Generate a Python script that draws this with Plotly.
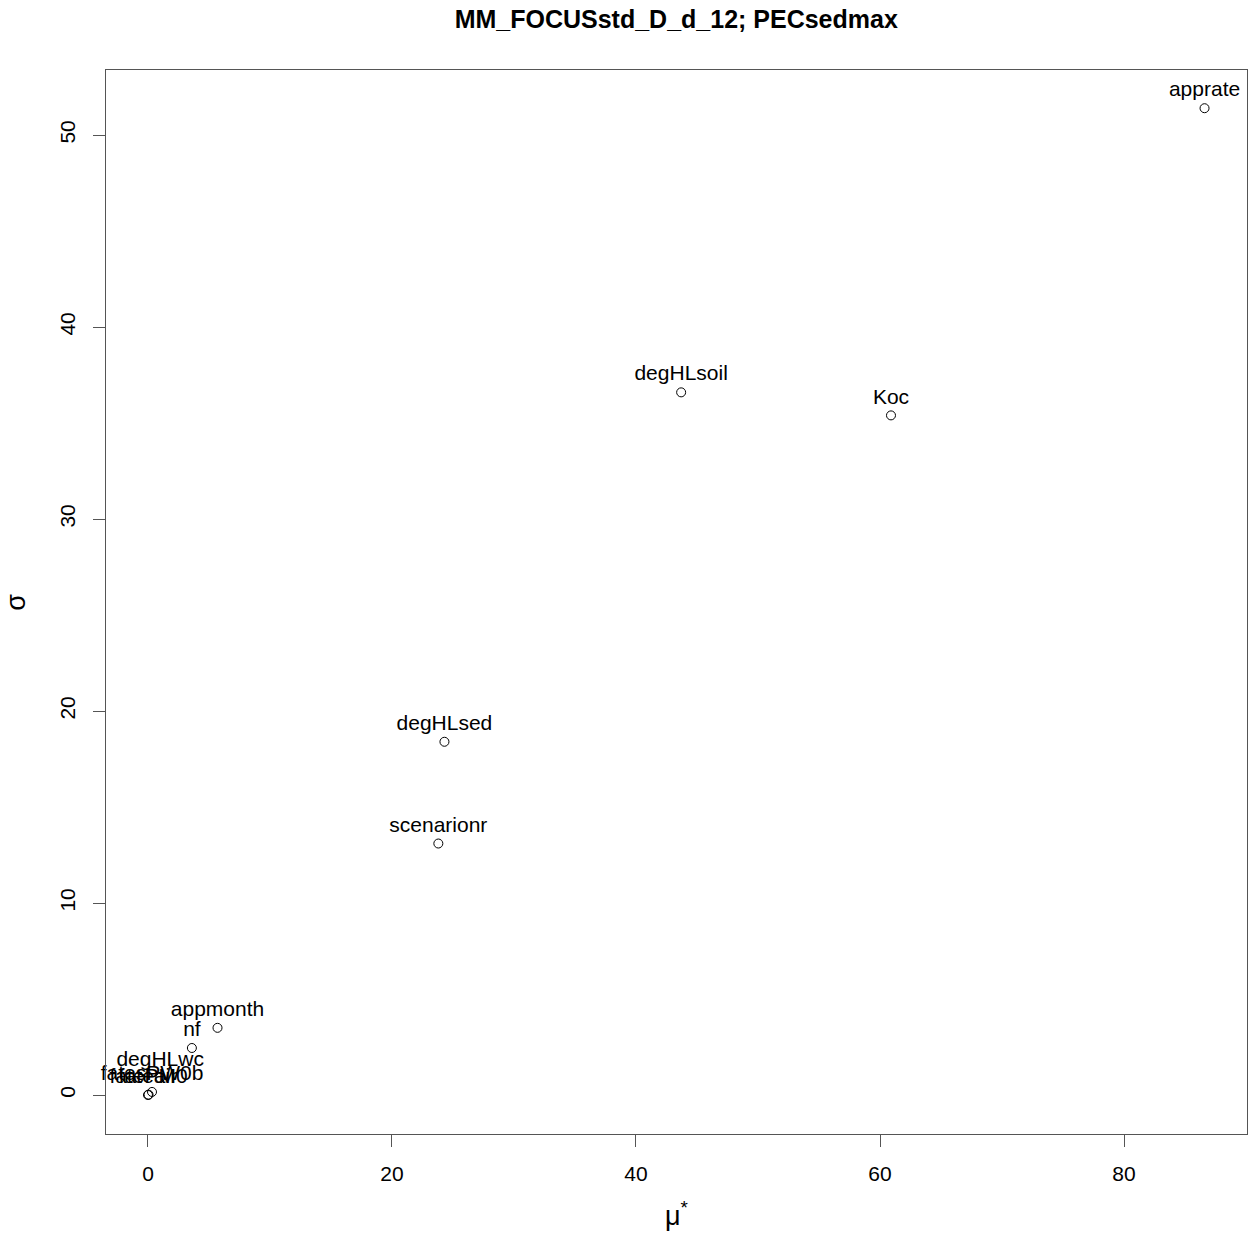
import plotly.graph_objects as go

labels = ["apprate", "degHLsoil", "Koc", "degHLsed", "scenarionr", "appmonth", "nf",
          "degHLwc", "fateair", "fatePM0", "fatesPW0b"]
mu_star = [86.6, 43.7, 60.9, 24.3, 23.8, 5.7, 3.6, 1.0, 0.0, 0.05, 0.33]
sigma = [51.4, 36.6, 35.4, 18.4, 13.1, 3.5, 2.45, 0.9, 0.0, 0.02, 0.16]

x_ticks = [0, 20, 40, 60, 80]
y_ticks = [0, 10, 20, 30, 40, 50]

fig = go.Figure()
fig.add_trace(go.Scatter(
    x=mu_star, y=sigma, mode="markers+text", text=labels,
    textposition="top center",
    textfont=dict(family="Liberation Sans, Arial", size=21, color="black"),
    marker=dict(symbol="circle-open", size=9, color="black", line=dict(width=1)),
    showlegend=False, cliponaxis=False,
))

W, H = 1250, 1236
ml, mr, mt, mb = 106, 3, 70, 102

axis_common = dict(
    showgrid=False, zeroline=False, showline=True, mirror=True,
    linecolor="#555555", linewidth=1.2, ticks="outside", ticklen=12,
    tickcolor="#555555", tickwidth=1,
    tickfont=dict(family="Liberation Sans Narrow, Liberation Sans, Arial", size=21, color="black"),
)

fig.update_layout(
    width=W, height=H,
    margin=dict(l=ml, r=mr, t=mt, b=mb),
    paper_bgcolor="white", plot_bgcolor="white",
    xaxis=dict(range=[-3.44, 90.08], tickvals=x_ticks, ticklabelstandoff=9, **axis_common),
    yaxis=dict(range=[-2.03, 53.39], tickvals=y_ticks, tickangle=-90, ticklabelstandoff=10, **axis_common),
    title=dict(text="<b>MM_FOCUSstd_D_d_12; PECsedmax</b>", x=0.541, xanchor="center",
               y=1 - 19 / H, yanchor="middle",
               font=dict(family="Liberation Sans, Arial", size=25, color="black")),
    annotations=[
        dict(text="μ<sup>*</sup>", xref="paper", yref="paper", x=0.5, y=-0.075,
             xanchor="center", yanchor="middle", showarrow=False,
             font=dict(family="Liberation Sans, Arial", size=27, color="black")),
        dict(text="σ", xref="paper", yref="paper", x=-0.079, y=0.5, textangle=-90,
             xanchor="center", yanchor="middle", showarrow=False,
             font=dict(family="Liberation Sans, Arial", size=27, color="black")),
    ],
)

fig.write_html(
    "out.html",
    config={"responsive": False, "displayModeBar": False},
    post_script="document.body.style.margin='0';document.body.style.overflow='hidden';",
)
